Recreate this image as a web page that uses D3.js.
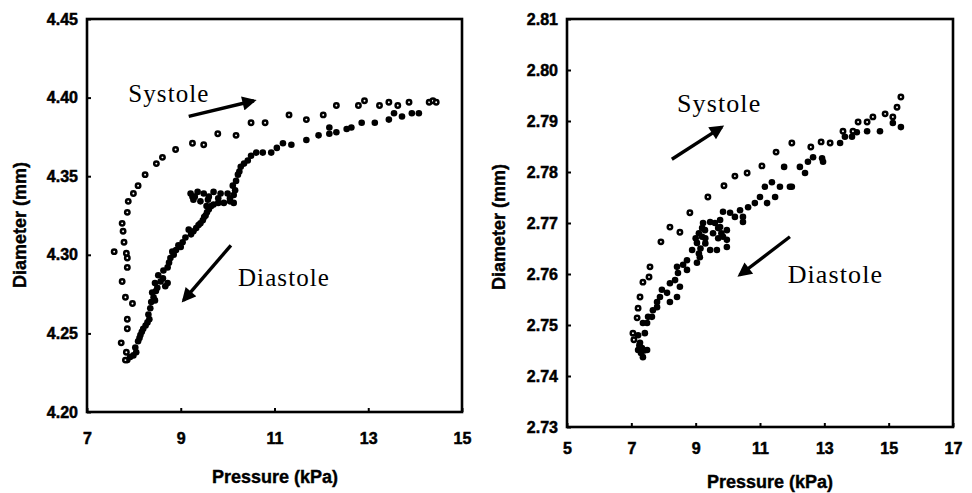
<!DOCTYPE html>
<html><head><meta charset="utf-8">
<script src="https://cdn.jsdelivr.net/npm/d3@7"></script>
<style>body{margin:0;background:#fff}</style>
</head><body>
<svg id="c" width="972" height="493"></svg>
<script>
// ---------- DATA ----------
const leftXTicks = [7, 9, 11, 13, 15];
const leftYTicks = [4.20, 4.25, 4.30, 4.35, 4.40, 4.45];
const rightXTicks = [5, 7, 9, 11, 13, 15, 17];
const rightYTicks = [2.73, 2.74, 2.75, 2.76, 2.77, 2.78, 2.79, 2.80, 2.81];

const leftSystolePressure = [7.82,7.84,7.73,7.86,7.86,7.97,7.82,7.75,7.86,7.86,7.58,7.84,7.79,7.77,7.75,7.86,7.88,7.99,8.09,8.24,8.48,8.61,8.89,9.25,9.49,9.79,10.18,10.50,10.80,11.31,11.68,12.04,12.32,12.79,12.92,13.24,13.44,13.63,13.87,14.30,14.38,14.45];
const leftSystoleDiameter = [4.233,4.238,4.244,4.253,4.259,4.269,4.273,4.283,4.292,4.298,4.302,4.301,4.308,4.315,4.320,4.327,4.334,4.339,4.344,4.351,4.358,4.362,4.367,4.371,4.370,4.377,4.376,4.384,4.384,4.389,4.386,4.389,4.395,4.395,4.398,4.395,4.397,4.395,4.397,4.397,4.398,4.397];

const leftDiastolePressure = [7.86,7.99,8.03,8.09,8.14,8.20,8.29,8.31,8.35,8.42,8.39,8.50,8.57,8.67,8.52,8.72,8.78,8.82,8.95,9.04,9.17,9.27,9.38,9.47,9.53,9.60,9.21,9.36,9.49,9.70,9.85,10.00,10.13,10.13,9.92,9.70,9.58,9.42,9.27,9.25,10.11,10.22,10.28,10.43,10.61,10.93,11.18,11.36,11.68,11.94,12.17,12.17,12.32,12.54,12.64,12.86,13.14,13.44,13.55,13.72,13.93,14.08,
  7.92,8.05,8.12,8.17,8.25,8.33,8.37,8.45,8.47,8.62,8.63,8.75,8.85,8.90,9.00,9.10,9.22,9.33,9.42,9.50,9.56,9.65,9.80,10.05,10.16,10.18,10.25,10.35,10.50,10.75,11.05,8.45,8.72,9.30,9.60,9.80,10.05,9.55];
const leftDiastoleDiameter = [4.233,4.236,4.241,4.245,4.249,4.253,4.257,4.262,4.266,4.273,4.276,4.279,4.283,4.280,4.287,4.292,4.298,4.302,4.306,4.308,4.316,4.315,4.319,4.322,4.325,4.329,4.339,4.340,4.339,4.340,4.339,4.339,4.338,4.333,4.333,4.332,4.335,4.334,4.335,4.337,4.344,4.351,4.356,4.360,4.365,4.365,4.371,4.370,4.373,4.376,4.377,4.381,4.378,4.380,4.381,4.384,4.384,4.386,4.390,4.388,4.390,4.390,
  4.235,4.238,4.247,4.251,4.255,4.259,4.270,4.271,4.277,4.285,4.290,4.295,4.300,4.303,4.305,4.311,4.313,4.317,4.320,4.324,4.327,4.331,4.333,4.336,4.341,4.347,4.353,4.358,4.363,4.365,4.368,4.282,4.282,4.337,4.337,4.336,4.334,4.331];

const rightSystolePressure = [7.05,7.08,7.18,7.21,7.27,7.36,7.55,7.58,7.92,8.20,8.51,8.82,9.38,9.88,10.22,10.60,11.06,11.50,11.99,12.58,12.90,13.18,13.58,13.89,14.05,14.33,14.51,14.89,15.13,15.26,15.38];
const rightSystoleDiameter = [2.7484,2.7471,2.7514,2.7533,2.7555,2.7584,2.7594,2.7614,2.7663,2.7692,2.7682,2.7720,2.7751,2.7773,2.7792,2.7798,2.7812,2.7839,2.7857,2.7849,2.7859,2.7857,2.7880,2.7880,2.7898,2.7898,2.7908,2.7914,2.7908,2.7927,2.7947];

const rightDiastolePressure = [15.38,15.13,14.73,14.33,14.01,13.86,13.64,13.49,12.96,12.93,12.65,12.49,12.40,12.24,11.75,11.99,11.93,11.62,11.37,11.15,11.47,11.22,11.00,10.63,10.84,10.47,10.38,10.47,10.22,10.07,9.85,9.76,9.76,9.97,9.85,9.97,9.97,9.54,9.45,9.23,9.29,9.20,9.04,8.89,9.45,9.66,9.13,9.04,8.73,8.73,8.61,8.45,8.42,8.36,8.20,8.11,8.51,8.42,8.20,7.95,7.89,7.80,7.80,7.67,7.64,7.52,7.49,7.36,7.42,7.21,7.27,7.49,7.36,7.21,7.33,9.10,9.20,9.30,9.00,9.15,9.30,9.10,9.70,9.80,9.60,9.70,7.25,7.30,7.40];
const rightDiastoleDiameter = [2.7888,2.7896,2.7880,2.7880,2.7878,2.7869,2.7869,2.7857,2.7820,2.7827,2.7829,2.7820,2.7798,2.7810,2.7810,2.7771,2.7771,2.7771,2.7780,2.7771,2.7751,2.7739,2.7751,2.7731,2.7739,2.7712,2.7725,2.7702,2.7712,2.7720,2.7722,2.7706,2.7692,2.7686,2.7673,2.7667,2.7653,2.7680,2.7702,2.7700,2.7686,2.7673,2.7661,2.7647,2.7647,2.7647,2.7633,2.7622,2.7627,2.7608,2.7618,2.7602,2.7614,2.7588,2.7582,2.7563,2.7575,2.7555,2.7545,2.7569,2.7555,2.7545,2.7535,2.7529,2.7516,2.7516,2.7504,2.7504,2.7484,2.7480,2.7465,2.7451,2.7437,2.7451,2.7455,2.7680,2.7690,2.7670,2.7670,2.7650,2.7660,2.7640,2.7690,2.7680,2.7700,2.7670,2.7460,2.7445,2.7450];

// annotations (in data units)
const leftLabels = [{text: "Systole", p: 7.88, d: 4.397}, {text: "Diastole", p: 10.22, d: 4.280}];
const leftArrows = [{p1: 9.17, d1: 4.388, p2: 10.56, d2: 4.398}, {p1: 10.07, d1: 4.306, p2: 9.06, d2: 4.271}];
const rightLabels = [{text: "Systole", p: 8.42, d: 2.7918}, {text: "Diastole", p: 11.86, d: 2.7582}];
const rightArrows = [{p1: 8.26, d1: 2.7825, p2: 9.81, d2: 2.7888}, {p1: 11.93, d1: 2.7673, p2: 10.37, d2: 2.7598}];

// ---------- DRAW ----------
const svg = d3.select("#c");
const defs = svg.append("defs");
defs.append("marker").attr("id", "ah").attr("viewBox", "0 0 10 10")
  .attr("refX", 8).attr("refY", 5).attr("markerWidth", 4.6).attr("markerHeight", 4.2)
  .attr("markerUnits", "strokeWidth").attr("orient", "auto")
  .append("path").attr("d", "M0,0 L10,5 L0,10 Z").attr("fill", "#000");

function zip(a, b) { return a.map((v, i) => ({p: v, d: b[i]})); }

const panels = [
  {box: {l: 87, r: 462, t: 19, b: 412}, xDom: [7, 15], yDom: [4.20, 4.45], xTicks: leftXTicks, yTicks: leftYTicks,
   sys: zip(leftSystolePressure, leftSystoleDiameter), dia: zip(leftDiastolePressure, leftDiastoleDiameter),
   labels: leftLabels, arrows: leftArrows, xPad: 21, xTitle: {x: 275, y: 483}, yTitle: {x: 26, y: 225}, fs: 25},
  {box: {l: 567, r: 953, t: 19, b: 427}, xDom: [5, 17], yDom: [2.73, 2.81], xTicks: rightXTicks, yTicks: rightYTicks,
   sys: zip(rightSystolePressure, rightSystoleDiameter), dia: zip(rightDiastolePressure, rightDiastoleDiameter),
   labels: rightLabels, arrows: rightArrows, xPad: 16, xTitle: {x: 770, y: 488}, yTitle: {x: 505, y: 227}, fs: 26}
];

panels.forEach(pn => {
  const x = d3.scaleLinear().domain(pn.xDom).range([pn.box.l, pn.box.r]);
  const y = d3.scaleLinear().domain(pn.yDom).range([pn.box.b, pn.box.t]);
  const g = svg.append("g");

  const ax = g.append("g").attr("transform", `translate(0,${pn.box.b})`)
    .call(d3.axisBottom(x).tickValues(pn.xTicks).tickFormat(d3.format("d")).tickSize(-4).tickPadding(pn.xPad));
  const ay = g.append("g").attr("transform", `translate(${pn.box.l},0)`)
    .call(d3.axisLeft(y).tickValues(pn.yTicks).tickFormat(d3.format(".2f")).tickSize(-4).tickPadding(9));
  [ax, ay].forEach(a => {
    a.select(".domain").remove();
    a.selectAll("line").attr("stroke", "#000").attr("stroke-width", 2);
    a.selectAll("text").attr("font-family", "Liberation Sans, Arial, sans-serif")
      .attr("font-weight", "bold").attr("font-size", 16).attr("fill", "#000")
      .attr("stroke", "#000").attr("stroke-width", 0.5);
  });

  g.append("rect").attr("x", pn.box.l).attr("y", pn.box.t)
    .attr("width", pn.box.r - pn.box.l).attr("height", pn.box.b - pn.box.t)
    .attr("fill", "none").attr("stroke", "#000").attr("stroke-width", 2.6);

  g.append("text").attr("x", pn.xTitle.x).attr("y", pn.xTitle.y).attr("text-anchor", "middle")
    .attr("font-family", "Liberation Sans, Arial, sans-serif").attr("font-weight", "bold").attr("font-size", 18)
    .attr("stroke", "#000").attr("stroke-width", 0.4)
    .text("Pressure (kPa)");
  g.append("text").attr("transform", `translate(${pn.yTitle.x},${pn.yTitle.y}) rotate(-90)`).attr("text-anchor", "middle")
    .attr("font-family", "Liberation Sans, Arial, sans-serif").attr("font-weight", "bold").attr("font-size", 18)
    .attr("stroke", "#000").attr("stroke-width", 0.4)
    .text("Diameter (mm)");

  g.append("g").selectAll("circle").data(pn.dia).join("circle")
    .attr("cx", d => x(d.p)).attr("cy", d => y(d.d)).attr("r", 3.3).attr("fill", "#000");
  g.append("g").selectAll("circle").data(pn.sys).join("circle")
    .attr("cx", d => x(d.p)).attr("cy", d => y(d.d)).attr("r", 2.2)
    .attr("fill", "#fff").attr("stroke", "#000").attr("stroke-width", 2.5);

  g.append("g").selectAll("text").data(pn.labels).join("text")
    .attr("x", d => x(d.p)).attr("y", d => y(d.d))
    .attr("font-family", "Liberation Serif, Times New Roman, serif").attr("font-size", pn.fs)
    .attr("letter-spacing", 1.1).text(d => d.text);

  g.append("g").selectAll("line").data(pn.arrows).join("line")
    .attr("x1", d => x(d.p1)).attr("y1", d => y(d.d1)).attr("x2", d => x(d.p2)).attr("y2", d => y(d.d2))
    .attr("stroke", "#000").attr("stroke-width", 3.4).attr("marker-end", "url(#ah)");
});
</script>
</body></html>
